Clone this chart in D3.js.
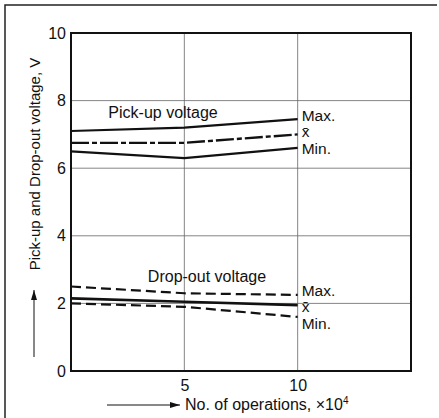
<!DOCTYPE html>
<html>
<head>
<meta charset="utf-8">
<script src="https://cdn.jsdelivr.net/npm/d3@7"></script>
<style>
  body { margin: 0; background: #fff; }
  text { font-family: "Liberation Sans", Arial, sans-serif; fill: #111; }
</style>
</head>
<body>
<div id="chart-area"></div>
<script>
// Data
let operations = [0, 5, 10];
let pickupMax = [7.1, 7.2, 7.45];
let pickupMean = [6.75, 6.75, 7.0];
let pickupMin = [6.5, 6.3, 6.6];
let dropoutMax = [2.5, 2.3, 2.25];
let dropoutMean = [2.15, 2.05, 1.95];
let dropoutMin = [2.0, 1.9, 1.6];
let yTicks = [0, 2, 4, 6, 8, 10];
let xTicks = [5, 10];

// SVG drawing area
let margin = { top: 33, right: 28, bottom: 47, left: 71 };
let width = 439 - margin.left - margin.right,
  height = 418 - margin.top - margin.bottom;

let root = d3
  .select('#chart-area')
  .append('svg')
  .attr('width', 439)
  .attr('height', 418);

// outer page frame (left and top edges)
root.append('path')
  .attr('d', 'M5,418V5H437')
  .attr('fill', 'none')
  .attr('stroke', '#222')
  .attr('stroke-width', 1.5);

let svg = root
  .append('g')
  .attr('transform', 'translate(' + margin.left + ',' + margin.top + ')');

// Scales
let x = d3.scaleLinear().domain([0, 15]).range([0, width]);
let y = d3.scaleLinear().domain([0, 10]).range([height, 0]);

// Grid
svg.append('g')
  .selectAll('line')
  .data(yTicks.slice(1, -1))
  .join('line')
  .attr('x1', 0).attr('x2', width)
  .attr('y1', d => y(d)).attr('y2', d => y(d))
  .attr('stroke', '#666').attr('stroke-width', 0.8);
svg.append('g')
  .selectAll('line')
  .data(xTicks)
  .join('line')
  .attr('x1', d => x(d)).attr('x2', d => x(d))
  .attr('y1', 0).attr('y2', height)
  .attr('stroke', '#666').attr('stroke-width', 0.8);

// Axes (labels only, frame drawn separately)
let yAxis = svg.append('g')
  .call(d3.axisLeft(y).tickValues(yTicks).tickSize(0).tickPadding(5));
let xAxis = svg.append('g')
  .attr('transform', `translate(0, ${height})`)
  .call(d3.axisBottom(x).tickValues(xTicks).tickSize(0).tickPadding(9));
[yAxis, xAxis].forEach(a => {
  a.select('.domain').remove();
  a.selectAll('text').attr('font-size', 16).attr('fill', '#111')
    .style('font-family', '"Liberation Sans", Arial, sans-serif');
});

// Plot frame
svg.append('rect')
  .attr('width', width).attr('height', height)
  .attr('fill', 'none').attr('stroke', '#111').attr('stroke-width', 2);

// Lines
let line = d3.line()
  .x((d, i) => x(operations[i]))
  .y(d => y(d));

let series = [
  { values: pickupMax, dash: null, w: 2.2, label: 'Max.', dy: -2 },
  { values: pickupMean, dash: '18,3,5,3', w: 2.4, label: 'x\u0304', dy: -1 },
  { values: pickupMin, dash: null, w: 2.2, label: 'Min.', dy: 2 },
  { values: dropoutMax, dash: '10,5', w: 2.2, label: 'Max.', dy: -3 },
  { values: dropoutMean, dash: null, w: 2.6, label: 'x\u0304', dy: 3 },
  { values: dropoutMin, dash: '10,5', w: 2.2, label: 'Min.', dy: 8 }
];

svg.selectAll('.series')
  .data(series)
  .join('path')
  .attr('class', 'series')
  .attr('d', d => line(d.values))
  .attr('fill', 'none')
  .attr('stroke', '#111')
  .attr('stroke-width', d => d.w)
  .attr('stroke-dasharray', d => d.dash);

svg.selectAll('.end-label')
  .data(series)
  .join('text')
  .attr('class', 'end-label')
  .attr('x', x(10) + 4)
  .attr('y', d => y(d.values[2]) + d.dy)
  .attr('dominant-baseline', 'middle')
  .attr('font-size', 15.5)
  .text(d => d.label);

// Group captions
svg.append('text')
  .attr('x', x(4.06)).attr('y', y(7.5))
  .attr('text-anchor', 'middle').attr('font-size', 16)
  .text('Pick-up voltage');
svg.append('text')
  .attr('x', x(6.0)).attr('y', y(2.63))
  .attr('text-anchor', 'middle').attr('font-size', 16)
  .text('Drop-out voltage');

// Axis titles with arrows
root.append('defs').append('marker')
  .attr('id', 'arrow')
  .attr('viewBox', '0 0 10 6')
  .attr('refX', 10).attr('refY', 3)
  .attr('markerWidth', 10).attr('markerHeight', 6)
  .attr('markerUnits', 'userSpaceOnUse')
  .attr('orient', 'auto')
  .append('path').attr('d', 'M0,0L10,3L0,6Z').attr('fill', '#111');

root.append('text')
  .attr('transform', 'translate(40,164) rotate(-90)')
  .attr('text-anchor', 'middle')
  .attr('font-size', 15)
  .text('Pick-up and Drop-out voltage, V');
root.append('line')
  .attr('x1', 34).attr('x2', 34).attr('y1', 357).attr('y2', 290)
  .attr('stroke', '#111').attr('stroke-width', 1)
  .attr('marker-end', 'url(#arrow)');

let xt = root.append('text')
  .attr('x', 185).attr('y', 410)
  .attr('font-size', 16);
xt.append('tspan').text('No. of operations,  \u00d710');
xt.append('tspan').attr('font-size', 10).attr('dy', -6).text('4');
root.append('line')
  .attr('x1', 107).attr('x2', 180).attr('y1', 405).attr('y2', 405)
  .attr('stroke', '#111').attr('stroke-width', 1)
  .attr('marker-end', 'url(#arrow)');
</script>
</body>
</html>
